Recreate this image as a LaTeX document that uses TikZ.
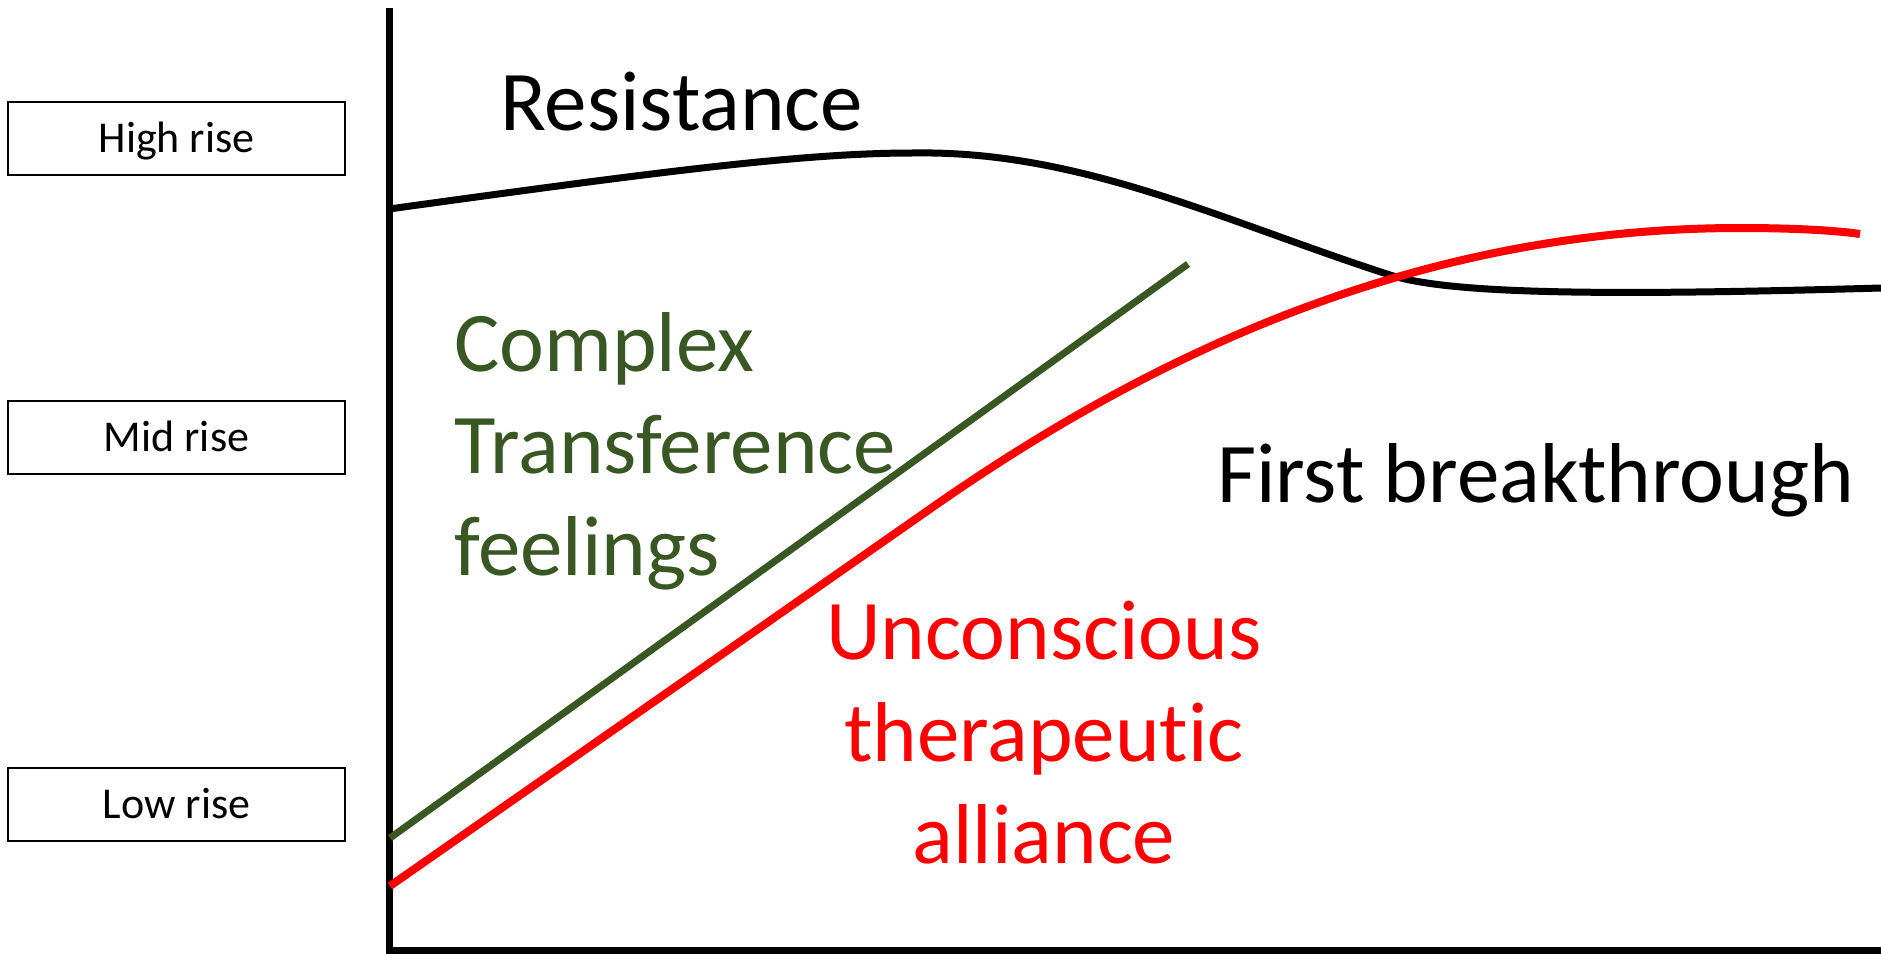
\documentclass[tikz,border=0pt]{standalone}
\usepackage{fontspec}
\setmainfont[Ligatures=NoCommon]{Carlito}
\definecolor{darkgreen}{RGB}{56,87,35}
\tikzset{
  risebox/.style={draw, line width=2pt, minimum width=337pt, minimum height=73pt,
    text height=28pt, text depth=0pt, inner sep=0pt, font=\fontsize{44}{53}\selectfont},
  biglabel/.style={inner sep=0pt, anchor=base west, align=left, font=\fontsize{85}{102}\selectfont},
  curve/.style={line width=7pt, line join=round}
}
\begin{document}
\begin{tikzpicture}[x=1pt,y=-1pt]
\useasboundingbox (0,0) rectangle (1881,953);
\node[risebox] (high) at (176.5,138.5) {High rise};
\node[risebox] (mid) at (176.5,437) {Mid rise};
\node[risebox] (low) at (176.5,804.5) {Low rise};
\draw[line width=7pt] (389,8) -- (389,950) -- (1881,950);
\node[biglabel] (resist) at (500,130) {Resistance};
\node[biglabel, darkgreen] (complex) at (454,575) {Complex\\Transference\\feelings};
\node[biglabel, red, anchor=base, align=center] (uncon) at (1044,863) {Unconscious\\therapeutic\\alliance};
\node[biglabel] (first) at (1217,502) {First breakthrough};
\draw[curve] (389,209) .. controls (650,173) and (800,153) .. (912,153)
  .. controls (1080,150) and (1220,220) .. (1390,275)
  .. controls (1450,294) and (1600,296) .. (1881,288);
\draw[curve, darkgreen] (390,838) -- (1188,264);
\draw[curve, red, line width=8pt] (390,886) -- (930,509)
  .. controls (1130,369) and (1400,228) .. (1740,228)
  .. controls (1800,228) and (1840,231) .. (1860,234);
\end{tikzpicture}
\end{document}
